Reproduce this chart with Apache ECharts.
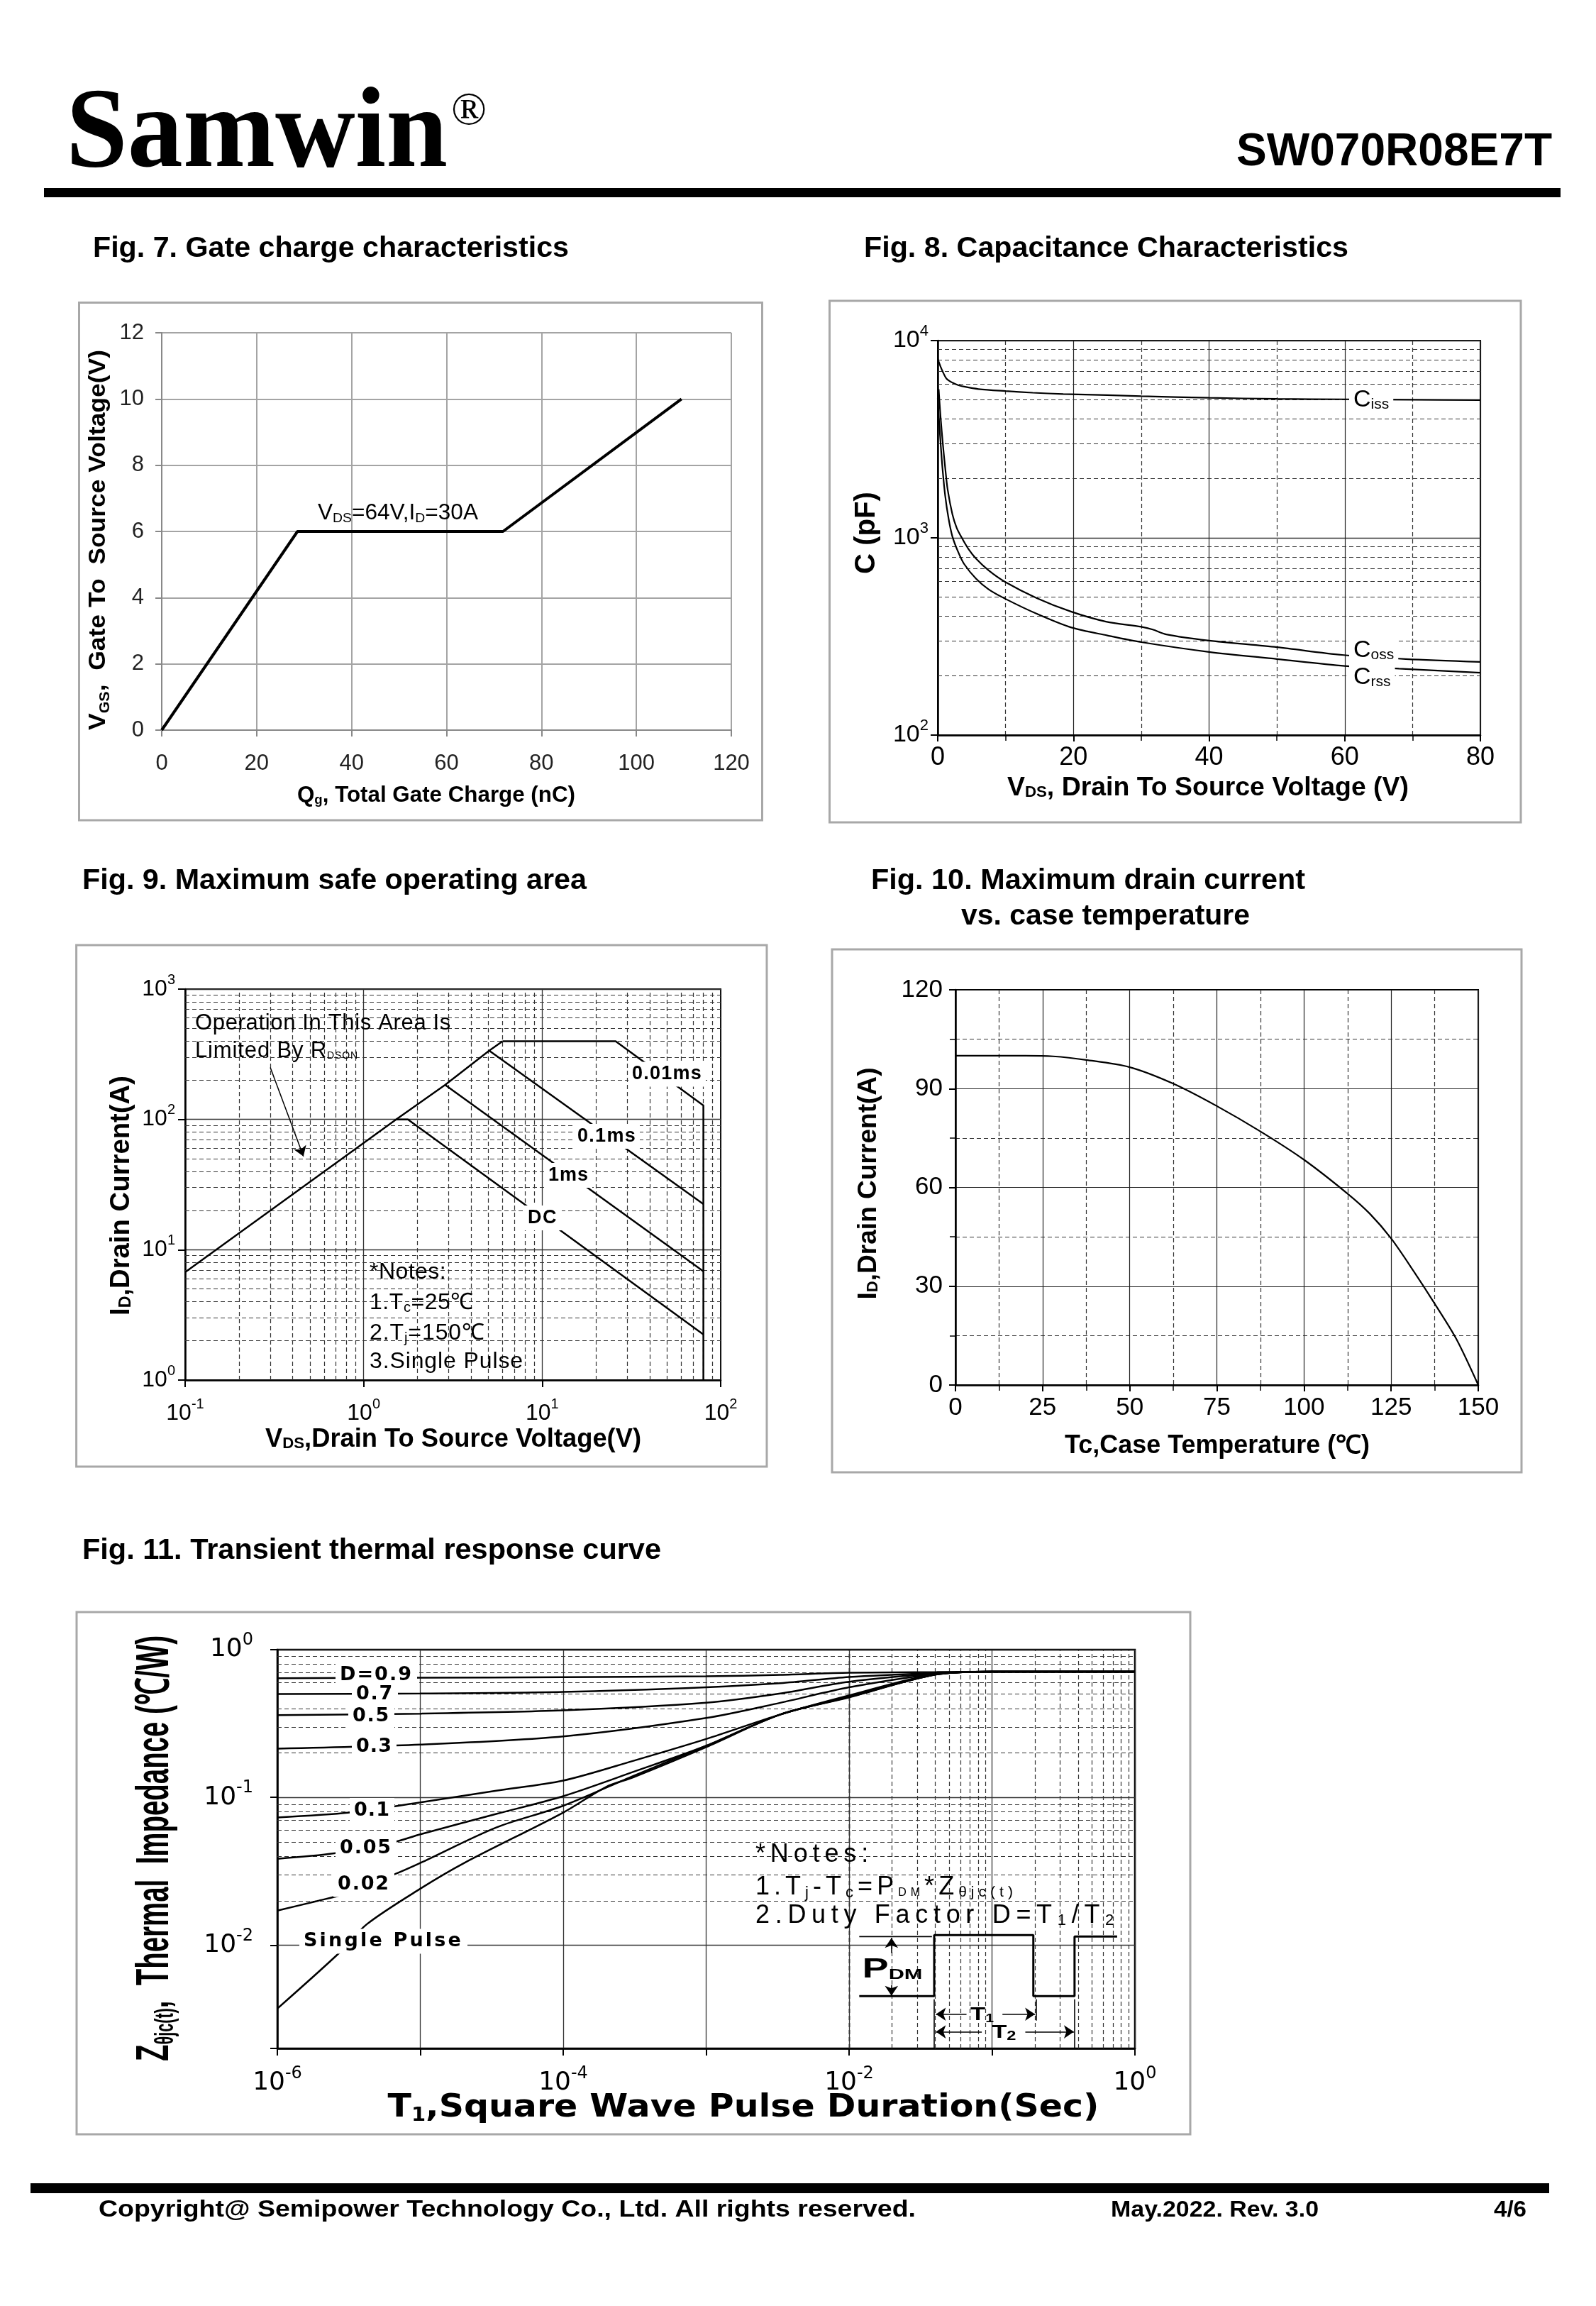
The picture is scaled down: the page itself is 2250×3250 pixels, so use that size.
<!DOCTYPE html>
<html><head><meta charset="utf-8">
<script src="https://cdn.jsdelivr.net/npm/echarts@6/dist/echarts.min.js"></script>
<style>html,body{margin:0;padding:0;background:#fff;}#chart{width:2250px;height:3250px;}</style>
</head><body><div id="chart"></div>
<script>
// ===================== DATA =====================
// Fig. 7 Gate charge
const qgTotalCharge = [0, 28.6, 71.9, 109.5];
const qgGateVoltage = [0, 6, 6, 10];
// Fig. 8 Capacitance (V, pF)
const cissVds = [0, 0.4, 0.77, 1.3, 2.16, 3.0, 3.9, 6, 10, 14, 18.5, 25, 30, 40, 50, 60, 70, 80];
const cissPf  = [8070, 7400, 6920, 6410, 6120, 5950, 5840, 5680, 5546, 5440, 5360, 5290, 5225, 5130, 5062, 5038, 5010, 4990];
const cossVds = [0.14, 0.4, 0.77, 1.1, 1.46, 2.16, 2.8, 3.55, 4.5, 5.64, 7.5, 10, 14.6, 19.7, 24.8, 30, 31.7, 33.7, 39.8, 50, 59.6, 69, 80];
const cossPf  = [5670, 4170, 2950, 2265, 1758, 1318, 1122, 1000, 881, 785, 684, 596, 495, 422, 376, 354, 343, 324, 302, 279, 255, 243, 235];
const crssVds = [0, 0.2, 0.42, 0.7, 1.1, 1.6, 2.16, 3, 3.9, 5.64, 7.5, 10, 14.6, 19.7, 25, 30, 40, 50, 60, 68, 80];
const crssPf  = [5100, 3900, 3020, 2250, 1633, 1250, 1016, 850, 736, 621, 548, 490, 412, 351, 320, 296, 264, 243, 224, 217, 207];
// Fig. 9 Safe operating area (V, A)
const soaRdsonV = [0.1, 1.52, 2.86, 5.05, 6.0];
const soaRdsonI = [6.73, 100, 184, 337, 398];
const soa10usV = [6.0, 25.8, 80, 80];
const soa10usI = [398, 398, 128, 1];
const soa100usV = [5.05, 80];
const soa100usI = [337, 22.4];
const soa1msV = [2.86, 80];
const soa1msI = [184, 6.83];
const soaDcV = [1.52, 1.77, 80];
const soaDcI = [100, 100, 2.24];
// Fig. 10 Drain current vs case temperature
const caseTemp = [0, 10, 20, 28, 37.5, 50, 62.5, 75, 87.5, 100, 112.5, 118.9, 125, 131.5, 137.5, 143.7, 150];
const maxDrainI = [100, 100, 100, 99.8, 98.7, 96.5, 91.5, 84.7, 77.0, 68.4, 58.1, 52, 44.5, 34.5, 24.7, 14, 0];
// Fig. 11 Transient thermal impedance (s, C/W)
const zthTime = [1e-6, 1e-5, 1e-4, 1e-3, 3.3e-3, 1e-2, 0.041, 0.1, 1];
const zthD09 = [0.640, 0.646, 0.651, 0.660, 0.676, 0.698, 0.705, 0.71, 0.71];
const zthD07 = [0.501, 0.505, 0.518, 0.557, 0.593, 0.653, 0.695, 0.71, 0.71];
const zthD05 = [0.361, 0.369, 0.388, 0.437, 0.505, 0.606, 0.69, 0.71, 0.71];
const zthD03 = [0.214, 0.228, 0.259, 0.345, 0.437, 0.556, 0.685, 0.71, 0.71];
const zthTimeD01 = [1e-6, 3.2e-6, 1e-5, 3.4e-5, 1e-4, 3.1e-4, 1e-3, 3.3e-3, 1e-2, 0.041, 0.1, 1];
const zthD01 = [0.0732, 0.079, 0.0925, 0.111, 0.130, 0.177, 0.2485, 0.364, 0.49, 0.685, 0.71, 0.71];
const zthTimeD005 = [1e-6, 2.5e-6, 6.4e-6, 1e-5, 3.4e-5, 1e-4, 3.1e-4, 1e-3, 3.3e-3, 1e-2, 0.041, 0.1, 1];
const zthD005 = [0.0384, 0.0418, 0.0495, 0.0563, 0.0773, 0.102, 0.149, 0.2235, 0.364, 0.48, 0.68, 0.71, 0.71];
const zthTimeD002 = [1e-6, 1.9e-6, 2.9e-6, 6.4e-6, 1e-5, 3.4e-5, 1e-4, 3.1e-4, 1e-3, 3.3e-3, 1e-2, 0.041, 0.1, 1];
const zthD002 = [0.01714, 0.0199, 0.0221, 0.0298, 0.0360, 0.0626, 0.0878, 0.140, 0.2235, 0.364, 0.478, 0.68, 0.71, 0.71];
const zthTimeSingle = [1e-6, 2.78e-6, 4.23e-6, 1e-5, 2.03e-5, 1e-4, 2.0e-4, 3.1e-4, 1e-3, 3.3e-3, 1e-2, 0.041, 0.1, 1];
const zthSingle = [0.00372, 0.00907, 0.01387, 0.0241, 0.0360, 0.079, 0.118, 0.137, 0.219, 0.364, 0.475, 0.68, 0.71, 0.71];
// Fig. 11 pulse illustration (in axis units)
const pulseWaveT = [0.01178, 0.0394, 0.0394, 0.1946, 0.1946, 0.378, 0.378, 0.751];
const pulseWaveZ = [0.00452, 0.00452, 0.0117, 0.0117, 0.00452, 0.00452, 0.01143, 0.01143];
const pulseRefT = [0.01178, 0.0380];
const pulseRefZ = [0.01143, 0.01143];
const pulseGuides = [[[0.0394, 0.0043], [0.0394, 0.002]], [[0.2027, 0.0043], [0.2027, 0.00309]], [[0.378, 0.0043], [0.378, 0.002]]];
const pulseArrows = [[[0.0198, 0.00885], [0.0198, 0.0112]], [[0.0198, 0.00537], [0.0198, 0.00455]],
  [[0.0663, 0.00341], [0.0405, 0.00341]], [[0.1183, 0.00341], [0.2, 0.00341]],
  [[0.0848, 0.00259], [0.0405, 0.00259]], [[0.171, 0.00259], [0.374, 0.00259]]];
const soaArrow = [[[0.3, 250], [0.46, 52]]];

// ===================== HELPERS =====================
const SANS = '"Liberation Sans", Arial, Helvetica, sans-serif';
const SERIF = '"Liberation Serif", "Times New Roman", serif';
const DJ = '"DejaVu Sans", Verdana, sans-serif';
const zip = (a, b) => a.map((v, i) => [v, b[i]]);
const mctx = document.createElement('canvas').getContext('2d');
function mw(t, size, weight, fam) { mctx.font = (weight || 'normal') + ' ' + size + 'px ' + fam; return mctx.measureText(t).width; }

function label(segs, o) {
  const fam = o.family || SANS, wt = o.weight || 'normal';
  let nat = 0, n = 0;
  segs.forEach(s => { nat += mw(s.t, s.size, s.weight || wt, s.family || fam); n += Array.from(s.t).length; });
  let sx = 1, sp = 0;
  if (o.w) { if (o.mode === 'space') sp = Math.max(0, (o.w - nat) / n); else sx = o.w / nat; }
  const rich = {}; let str = '';
  segs.forEach((s, i) => {
    const k = 'r' + i, dy = s.dy || 0;
    rich[k] = { fontSize: s.size, fontWeight: s.weight || wt, fontFamily: s.family || fam, fill: o.color || '#000',
      padding: [dy > 0 ? 2 * dy : 0, sp, dy < 0 ? -2 * dy : 0, 0] };
    if (sp > 0) str += Array.from(s.t).map(c => '{' + k + '|' + c + '}').join('');
    else str += '{' + k + '|' + s.t + '}';
  });
  const st = { text: str, rich: rich, align: o.align || 'left', verticalAlign: 'middle', fill: o.color || '#000' };
  let x = o.x;
  if (o.bg) { const pad = o.pad || [3, 5]; st.backgroundColor = o.bg; st.padding = pad; if ((o.align || 'left') === 'left') x -= pad[1] * sx; }
  return { type: 'text', x: x, y: o.y, rotation: o.rot || 0, scaleX: sx, scaleY: 1, z: 100, silent: true, style: st };
}
function rect(x, y, w, h, stroke, lw, fill) {
  return { type: 'rect', shape: { x: x, y: y, width: w, height: h }, style: { fill: fill || 'none', stroke: stroke || 'none', lineWidth: lw || 0 }, z: fill ? 60 : 1, silent: true };
}
function decadeMinors(lo, hi) { const out = []; for (let e = lo; e < hi; e++) for (let k = 2; k <= 9; k++) out.push(+(k * Math.pow(10, e)).toPrecision(6)); return out; }
function minorGrid(idx, xv, yv) {
  const data = [];
  (xv || []).forEach(v => data.push({ xAxis: v }));
  (yv || []).forEach(v => data.push({ yAxis: v }));
  return { type: 'line', xAxisIndex: idx, yAxisIndex: idx, data: [], z: 1, silent: true, symbol: 'none',
    markLine: { silent: true, symbol: 'none', animation: false, label: { show: false }, emphasis: { disabled: true },
      lineStyle: { color: '#333', width: 1.2, type: [6, 4] }, data: data } };
}
function curve(name, idx, xs, ys, w, extra) {
  return Object.assign({ name: name, type: 'line', xAxisIndex: idx, yAxisIndex: idx, data: zip(xs, ys), showSymbol: false, symbol: 'none',
    lineStyle: { color: '#000', width: w }, z: 5, silent: true }, extra || {});
}
function powLabel(size, sup, raise, margin, fam, evenOnly) {
  return { margin: margin, formatter: function (v) {
      const l = Math.log10(v), e = Math.round(l);
      if (Math.abs(l - e) > 1e-6) return '';
      if (evenOnly && e % 2 !== 0) return '';
      return '{b|10}{s|' + e + '}';
    },
    rich: { b: { fontSize: size, fontFamily: fam, color: '#000' }, s: { fontSize: sup, fontFamily: fam, color: '#000', padding: [0, 0, 2 * raise, 0] } } };
}
function logAxis(gi, min, max, lab) {
  return { gridIndex: gi, type: 'log', logBase: 10, min: min, max: max,
    axisLine: { show: true, lineStyle: { color: '#000', width: 2.5 } },
    axisTick: { show: true, length: 10, lineStyle: { color: '#000', width: 2 } },
    splitLine: { show: true, lineStyle: { color: '#333', width: 1.3 } },
    minorTick: { show: false }, minorSplitLine: { show: false }, axisLabel: lab };
}
function valAxis(gi, min, max, interval, o) {
  return { gridIndex: gi, type: 'value', min: min, max: max, interval: interval,
    axisLine: { show: true, lineStyle: { color: o.axisColor, width: o.axisWidth } },
    axisTick: { show: true, length: 9, lineStyle: { color: o.axisColor, width: 2 } },
    minorTick: { show: !!o.minor, splitNumber: 2, length: 8, lineStyle: { color: o.axisColor, width: 1.5 } },
    splitLine: { show: true, lineStyle: { color: o.gridColor, width: o.gridWidth } },
    minorSplitLine: { show: !!o.minor, lineStyle: { color: '#333', width: 1.2, type: [6, 4] } },
    axisLabel: { fontSize: o.fs, color: o.lc || '#000', margin: o.margin, fontFamily: SANS } };
}
const SM = { smooth: 0.3 };

// ===================== CHART =====================
const chart = echarts.init(document.getElementById('chart'), null, { renderer: 'canvas', width: 2250, height: 3250 });

const fig11YMinors = [0.003, 0.004, 0.005, 0.006, 0.007, 0.008, 0.009].concat(decadeMinors(-2, 0));

const arrowLines = (idx, segs, withArrow, w) => ({
  type: 'lines', coordinateSystem: 'cartesian2d', xAxisIndex: idx, yAxisIndex: idx, silent: true, z: 6,
  symbol: withArrow ? ['none', 'arrow'] : ['none', 'none'], symbolSize: withArrow ? 14 : 0,
  lineStyle: { color: '#000', width: w, opacity: 1, curveness: 0 }, effect: { show: false },
  data: segs.map(c => ({ coords: c }))
});

const G = [];
// header / footer
G.push(rect(62, 265, 2138, 13, null, 0, '#000'));
G.push(label([{ t: 'Samwin', size: 160, weight: 'bold' }], { x: 93, y: 193, family: SERIF, w: 538 }));
G.push(label([{ t: '®', size: 66 }], { x: 636, y: 158, family: SERIF }));
G.push(label([{ t: 'SW070R08E7T', size: 64, weight: 'bold' }], { x: 2188, y: 215, align: 'right', w: 445 }));
G.push(rect(43, 3077, 2141, 14, null, 0, '#000'));
G.push(label([{ t: 'Copyright@ Semipower Technology Co., Ltd. All rights reserved.', size: 34, weight: 'bold' }], { x: 139, y: 3115, w: 1152 }));
G.push(label([{ t: 'May.2022. Rev. 3.0', size: 32, weight: 'bold' }], { x: 1566, y: 3115, w: 293 }));
G.push(label([{ t: '4/6', size: 32, weight: 'bold' }], { x: 2106, y: 3115, w: 46 }));
// frames
G.push(rect(111.5, 426.5, 963, 729.5, '#a8a8a8', 3));
G.push(rect(1169.5, 424, 974.5, 735, '#a8a8a8', 3));
G.push(rect(107.6, 1332, 973.4, 735, '#a8a8a8', 3));
G.push(rect(1173, 1338, 972, 737, '#a8a8a8', 3));
G.push(rect(108, 2272, 1570, 736, '#a8a8a8', 3));
// titles
const TB = { size: 40, weight: 'bold' };
G.push(label([Object.assign({ t: 'Fig. 7. Gate charge characteristics' }, TB)], { x: 131, y: 351, w: 671 }));
G.push(label([Object.assign({ t: 'Fig. 8. Capacitance Characteristics' }, TB)], { x: 1218, y: 351, w: 683 }));
G.push(label([Object.assign({ t: 'Fig. 9. Maximum safe operating area' }, TB)], { x: 116, y: 1242, w: 711 }));
G.push(label([Object.assign({ t: 'Fig. 10. Maximum drain current' }, TB)], { x: 1228, y: 1242, w: 612 }));
G.push(label([Object.assign({ t: 'vs. case temperature' }, TB)], { x: 1355, y: 1292, w: 407 }));
G.push(label([Object.assign({ t: 'Fig. 11. Transient thermal response curve' }, TB)], { x: 116, y: 2186, w: 816 }));
// Fig 7 texts
G.push(label([{ t: 'V', size: 33 }, { t: 'GS', size: 20, dy: 9 }, { t: ',  Gate To  Source Voltage(V)', size: 33 }], { x: 139, y: 761, align: 'center', rot: Math.PI / 2, weight: 'bold', w: 536 }));
G.push(label([{ t: 'Q', size: 32 }, { t: 'g', size: 19, dy: 7 }, { t: ', Total Gate Charge (nC)', size: 32 }], { x: 615, y: 1121, align: 'center', weight: 'bold', w: 392 }));
G.push(label([{ t: 'V', size: 31 }, { t: 'DS', size: 19, dy: 8 }, { t: '=64V,I', size: 31 }, { t: 'D', size: 19, dy: 8 }, { t: '=30A', size: 31 }], { x: 448, y: 723, w: 226 }));
// Fig 8 texts
G.push(label([{ t: 'C (pF)', size: 40 }], { x: 1222, y: 751, align: 'center', rot: Math.PI / 2, weight: 'bold', w: 116 }));
G.push(label([{ t: 'V', size: 37 }, { t: 'DS', size: 22, dy: 6 }, { t: ', Drain To Source Voltage (V)', size: 37 }], { x: 1703, y: 1111, align: 'center', weight: 'bold', w: 566 }));
G.push(label([{ t: 'C', size: 34 }, { t: 'iss', size: 21, dy: 6 }], { x: 1908, y: 564, bg: '#fff', pad: [4, 6] }));
G.push(label([{ t: 'C', size: 34 }, { t: 'oss', size: 21, dy: 6 }], { x: 1908, y: 917, bg: '#fff', pad: [3, 6] }));
G.push(label([{ t: 'C', size: 34 }, { t: 'rss', size: 21, dy: 6 }], { x: 1908, y: 955, bg: '#fff', pad: [4, 6] }));
// Fig 9 texts
G.push(label([{ t: 'I', size: 38 }, { t: 'D', size: 23, dy: 6 }, { t: ',Drain Current(A)', size: 38 }], { x: 171.5, y: 1685, align: 'center', rot: Math.PI / 2, weight: 'bold', w: 338 }));
G.push(label([{ t: 'V', size: 36 }, { t: 'DS', size: 22, dy: 6 }, { t: ',Drain To Source Voltage(V)', size: 36 }], { x: 639, y: 2029, align: 'center', weight: 'bold', w: 530 }));
G.push(label([{ t: 'Operation In This Area Is', size: 31 }], { x: 275, y: 1442.5, w: 361, mode: 'space' }));
G.push(label([{ t: 'Limited By R', size: 31 }, { t: 'DSON', size: 14, dy: 7 }], { x: 275, y: 1481, w: 230, mode: 'space' }));
G.push(label([{ t: '0.01ms', size: 27 }], { x: 891, y: 1514, weight: 'bold', w: 99, mode: 'space', bg: '#fff', pad: [4, 5] }));
G.push(label([{ t: '0.1ms', size: 27 }], { x: 814, y: 1601.5, weight: 'bold', w: 83, mode: 'space', bg: '#fff', pad: [4, 5] }));
G.push(label([{ t: '1ms', size: 27 }], { x: 773, y: 1656.5, weight: 'bold', w: 57, mode: 'space', bg: '#fff', pad: [4, 5] }));
G.push(label([{ t: 'DC', size: 27 }], { x: 744, y: 1716.5, weight: 'bold', w: 42, mode: 'space', bg: '#fff', pad: [4, 6] }));
G.push(label([{ t: '*Notes:', size: 32 }], { x: 521, y: 1793, w: 108, mode: 'space' }));
G.push(label([{ t: '1.T', size: 32 }, { t: 'c', size: 20, dy: 7 }, { t: '=25℃', size: 32 }], { x: 521, y: 1836, w: 147, mode: 'space' }));
G.push(label([{ t: '2.T', size: 32 }, { t: 'j', size: 20, dy: 7 }, { t: '=150℃', size: 32 }], { x: 521, y: 1879, w: 163, mode: 'space' }));
G.push(label([{ t: '3.Single Pulse', size: 32 }], { x: 521, y: 1919, w: 217, mode: 'space' }));
// Fig 10 texts
G.push(label([{ t: 'I', size: 37 }, { t: 'D', size: 22, dy: 6 }, { t: ',Drain Current(A)', size: 37 }], { x: 1225, y: 1668, align: 'center', rot: Math.PI / 2, weight: 'bold', w: 327 }));
G.push(label([{ t: 'Tc,Case Temperature (℃)', size: 36 }], { x: 1716, y: 2038, align: 'center', weight: 'bold', w: 430 }));
// Fig 11 texts
G.push(label([{ t: 'Z', size: 64 }, { t: 'θjc(t)', size: 36, dy: 15 }, { t: ',  Thermal  Impedance (℃/W)', size: 64 }], { x: 219, y: 2605, align: 'center', rot: Math.PI / 2, weight: 'bold', w: 600 }));
G.push(label([{ t: 'T', size: 44 }, { t: '1', size: 26, dy: 10 }, { t: ',Square Wave Pulse Duration(Sec)', size: 44 }], { x: 1048, y: 2972, align: 'center', weight: 'bold', family: DJ, w: 1003 }));
const CL = { weight: 'bold', family: DJ, mode: 'space', bg: '#fff', pad: [4, 6] };
G.push(label([{ t: 'D=0.9', size: 27 }], Object.assign({ x: 479, y: 2361, w: 103 }, CL)));
G.push(label([{ t: '0.7', size: 27 }], Object.assign({ x: 502, y: 2388, w: 53 }, CL)));
G.push(label([{ t: '0.5', size: 27 }], Object.assign({ x: 497, y: 2418.5, w: 53 }, CL)));
G.push(label([{ t: '0.3', size: 27 }], Object.assign({ x: 502, y: 2461.5, w: 51 }, CL)));
G.push(label([{ t: '0.1', size: 27 }], Object.assign({ x: 499, y: 2551.5, w: 51 }, CL)));
G.push(label([{ t: '0.05', size: 27 }], Object.assign({ x: 479, y: 2605, w: 74 }, CL)));
G.push(label([{ t: '0.02', size: 27 }], Object.assign({ x: 476, y: 2656, w: 74 }, CL)));
G.push(label([{ t: 'Single Pulse', size: 27 }], Object.assign({ x: 428, y: 2736, w: 225 }, CL)));
G.push(label([{ t: '*Notes:', size: 36 }], { x: 1065, y: 2614, w: 166, mode: 'space' }));
G.push(label([{ t: '1.T', size: 36 }, { t: 'j', size: 22, dy: 8 }, { t: '-T', size: 36 }, { t: 'c', size: 22, dy: 8 }, { t: '=P', size: 36 }, { t: 'DM', size: 16, dy: 8 }, { t: '*Z', size: 36 }, { t: 'θjc(t)', size: 21, dy: 7 }], { x: 1065, y: 2660, w: 369, mode: 'space' }));
G.push(label([{ t: '2.Duty Factor D=T', size: 36 }, { t: '1', size: 22, dy: 7 }, { t: '/T', size: 36 }, { t: '2', size: 22, dy: 7 }], { x: 1065, y: 2700, w: 513, mode: 'space' }));
G.push(label([{ t: 'P', size: 38 }, { t: 'DM', size: 21, dy: 6 }], { x: 1215.5, y: 2777, weight: 'bold', w: 85 }));
G.push(label([{ t: 'T', size: 26 }, { t: '1', size: 16, dy: 6 }], { x: 1368, y: 2840, weight: 'bold', w: 33 }));
G.push(label([{ t: 'T', size: 26 }, { t: '2', size: 18, dy: 5 }], { x: 1398.4, y: 2865, weight: 'bold', w: 34 }));

const option = {
  animation: false,
  backgroundColor: '#fff',
  textStyle: { fontFamily: SANS },
  grid: [
    { left: 228, top: 469, width: 803, height: 560, show: false },
    { left: 1322, top: 480, width: 765, height: 556, show: true, borderColor: '#000', borderWidth: 2, backgroundColor: 'transparent' },
    { left: 261, top: 1394, width: 755, height: 551, show: true, borderColor: '#000', borderWidth: 2, backgroundColor: 'transparent' },
    { left: 1347, top: 1395, width: 737, height: 557, show: true, borderColor: '#000', borderWidth: 2, backgroundColor: 'transparent' },
    { left: 391, top: 2325, width: 1209, height: 562, show: true, borderColor: '#000', borderWidth: 2.5, backgroundColor: 'transparent' }
  ],
  xAxis: [
    valAxis(0, 0, 120, 20, { axisColor: '#888', axisWidth: 2, gridColor: '#a4a4a4', gridWidth: 2, fs: 31, lc: '#222', margin: 32 }),
    valAxis(1, 0, 80, 20, { axisColor: '#000', axisWidth: 2.5, gridColor: '#222', gridWidth: 1.2, fs: 36, margin: 14, minor: true }),
    logAxis(2, 0.1, 100, powLabel(32, 20, 13, 24, SANS)),
    valAxis(3, 0, 150, 25, { axisColor: '#000', axisWidth: 2.5, gridColor: '#222', gridWidth: 1.2, fs: 35, margin: 15, minor: true }),
    logAxis(4, 1e-6, 1, powLabel(36, 24, 13, 24, DJ, true))
  ],
  yAxis: [
    valAxis(0, 0, 12, 2, { axisColor: '#888', axisWidth: 2, gridColor: '#a4a4a4', gridWidth: 2, fs: 31, lc: '#222', margin: 25 }),
    logAxis(1, 100, 10000, powLabel(34, 22, 13, 13, SANS)),
    logAxis(2, 1, 1000, powLabel(32, 20, 13, 14, SANS)),
    valAxis(3, 0, 120, 30, { axisColor: '#000', axisWidth: 2.5, gridColor: '#222', gridWidth: 1.2, fs: 35, margin: 18, minor: true }),
    logAxis(4, 0.002, 1, powLabel(36, 24, 13, 34, DJ))
  ],
  series: [
    curve('VGS', 0, qgTotalCharge, qgGateVoltage, 4),
    minorGrid(1, null, decadeMinors(2, 4)),
    curve('Ciss', 1, cissVds, cissPf, 2.2, SM),
    curve('Coss', 1, cossVds, cossPf, 2.2, SM),
    curve('Crss', 1, crssVds, crssPf, 2.2, SM),
    minorGrid(2, decadeMinors(-1, 2), decadeMinors(0, 3)),
    curve('Rdson limit', 2, soaRdsonV, soaRdsonI, 2.5),
    curve('0.01ms', 2, soa10usV, soa10usI, 2.5),
    curve('0.1ms', 2, soa100usV, soa100usI, 2.5),
    curve('1ms', 2, soa1msV, soa1msI, 2.5),
    curve('DC', 2, soaDcV, soaDcI, 2.5),
    arrowLines(2, soaArrow, true, 1.5),
    curve('ID', 3, caseTemp, maxDrainI, 2.2, SM),
    minorGrid(4, decadeMinors(-6, 0), fig11YMinors),
    curve('D=0.9', 4, zthTime, zthD09, 2.5, SM),
    curve('D=0.7', 4, zthTime, zthD07, 2.5, SM),
    curve('D=0.5', 4, zthTime, zthD05, 2.5, SM),
    curve('D=0.3', 4, zthTime, zthD03, 2.5, SM),
    curve('D=0.1', 4, zthTimeD01, zthD01, 2.5, SM),
    curve('D=0.05', 4, zthTimeD005, zthD005, 2.5, SM),
    curve('D=0.02', 4, zthTimeD002, zthD002, 2.5, SM),
    curve('Single Pulse', 4, zthTimeSingle, zthSingle, 2.5, SM),
    curve('pulse', 4, pulseWaveT, pulseWaveZ, 3),
    curve('pulseRef', 4, pulseRefT, pulseRefZ, 1.6),
    arrowLines(4, pulseGuides, false, 1.6),
    arrowLines(4, pulseArrows, true, 1.6)
  ],
  graphic: { elements: G }
};
chart.setOption(option);
</script>
</body></html>
